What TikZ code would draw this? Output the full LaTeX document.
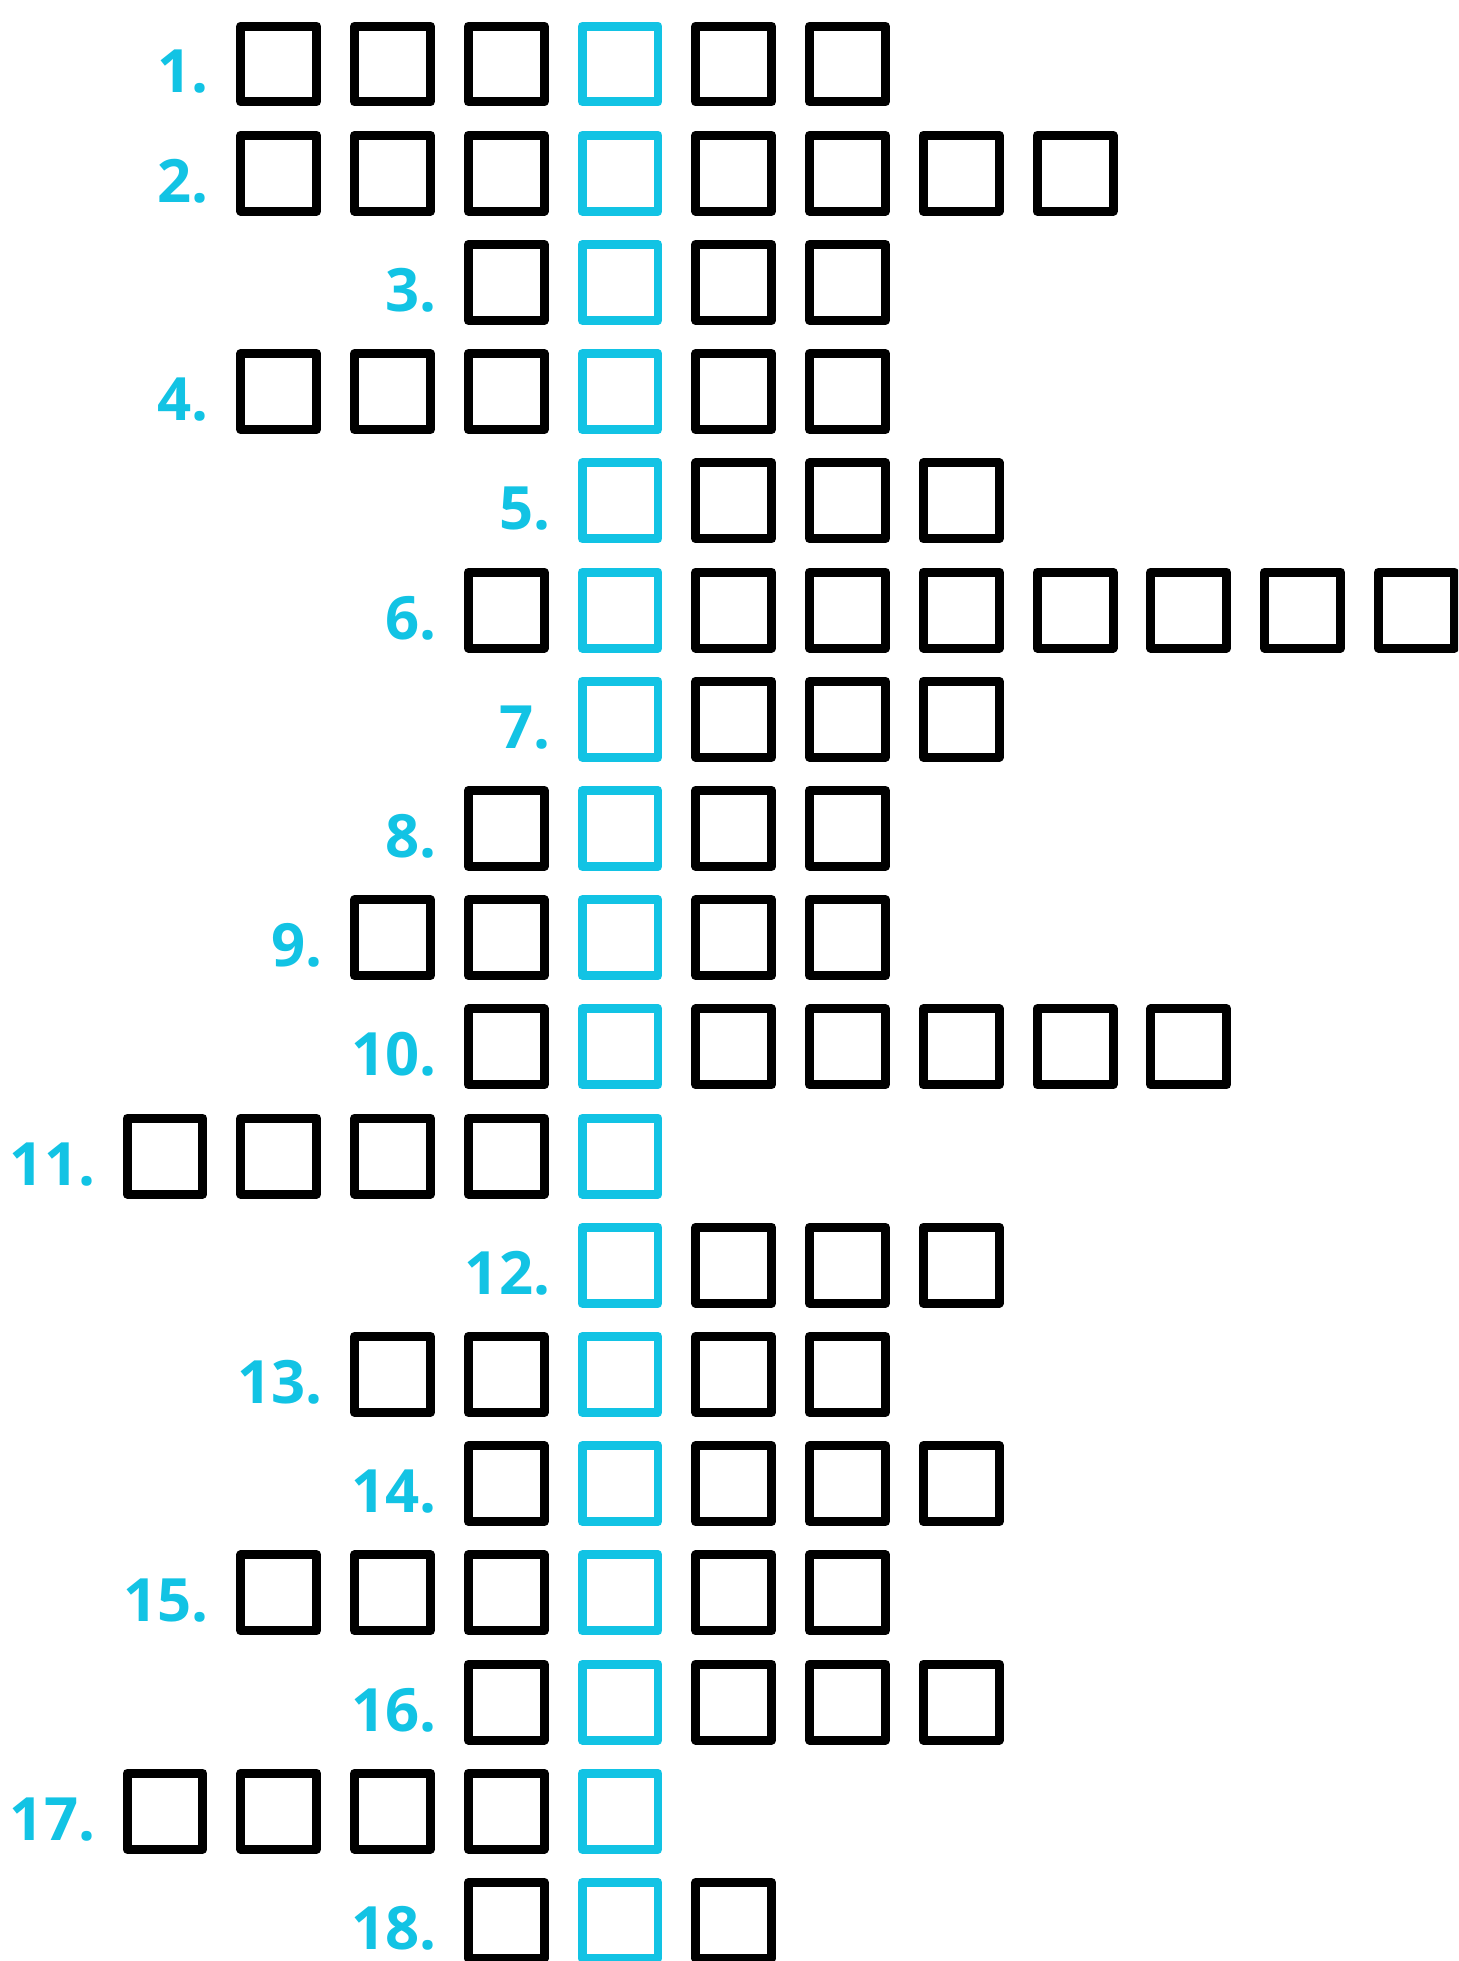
\documentclass[tikz,border=0pt]{standalone}
\usepackage{fontspec}
\setmainfont{Open Sans}
\usetikzlibrary{positioning}
\definecolor{quizcyan}{HTML}{12C3E4}
\tikzset{
  cell/.style={draw=black, line width=0.18cm, line join=round, minimum size=1.52cm, inner sep=0pt},
  keycell/.style={cell, draw=quizcyan},
  rownum/.style={text=quizcyan, font=\fontsize{34}{40}\selectfont\bfseries, inner sep=0pt, anchor=base east}
}

\begin{document}
\begin{tikzpicture}[x=0.02cm, y=-0.02cm]
  \useasboundingbox (0,0) rectangle (1458,1961);
  \clip (0,0) rectangle (1458,1961);
  % row / first column / last column (column 5 is the key column)
  \foreach \r/\a/\b in {1/2/7, 2/2/9, 3/4/7, 4/2/7, 5/5/8, 6/4/12, 7/5/8, 8/4/7, 9/3/7,
                        10/4/10, 11/1/5, 12/5/8, 13/3/7, 14/4/8, 15/2/7, 16/4/8, 17/1/5, 18/4/6} {
    \foreach \k in {\a,...,\b} {
      \ifnum\k=5
        \node[keycell] (b\r-\k) at ({620+(\k-5)*113.75}, {64+(\r-1)*109.2}) {};
      \else
        \node[cell] (b\r-\k) at ({620+(\k-5)*113.75}, {64+(\r-1)*109.2}) {};
      \fi
    }
    \node[rownum] (n\r) at ([xshift=-0.54cm, yshift=0.27cm]b\r-\a.south west) {\r.};
  }
\end{tikzpicture}
\end{document}
